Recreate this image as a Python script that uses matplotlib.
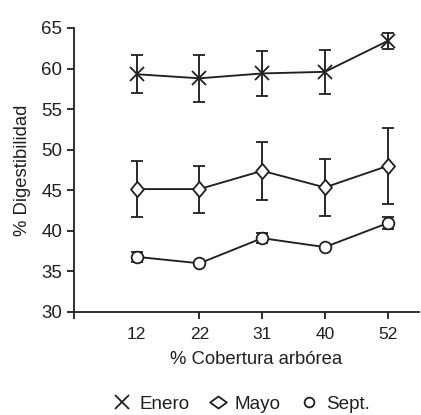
import numpy as np
import matplotlib
matplotlib.use("Agg")
import matplotlib.pyplot as plt
from matplotlib.lines import Line2D
from matplotlib.path import Path

plt.rcParams['font.family'] = ['Liberation Sans', 'DejaVu Sans']

# ---- data ----
cobertura = ['12', '22', '31', '40', '52']
enero = [59.3, 58.8, 59.4, 59.6, 63.4]
enero_err = [2.35, 2.9, 2.8, 2.7, 0.95]
mayo = [45.15, 45.15, 47.4, 45.35, 48.0]
mayo_err = [3.5, 2.9, 3.55, 3.5, 4.65]
sept = [36.8, 36.0, 39.1, 38.0, 40.95]
sept_err = [0.65, np.nan, 0.6, np.nan, 0.75]
series_names = ['Enero', 'Mayo', 'Sept.']

col = '#231f20'
fig = plt.figure(figsize=(4.21, 4.15), dpi=100)
ax = fig.add_axes([74/421, 103/415, 345/421, 284/415])

x = np.arange(1, len(cobertura) + 1)

tall_diamond = Path([(0, 1), (0.85, 0), (0, -1), (-0.85, 0), (0, 1)],
                    [Path.MOVETO, Path.LINETO, Path.LINETO, Path.LINETO, Path.CLOSEPOLY])
wide_diamond = Path([(-1, 0), (0, 0.72), (1, 0), (0, -0.72), (-1, 0)],
                    [Path.MOVETO, Path.LINETO, Path.LINETO, Path.LINETO, Path.CLOSEPOLY])

common = dict(color=col, lw=1.35, elinewidth=1.35, capsize=4.3, capthick=1.35,
              mec=col, mew=1.3)
ax.errorbar(x, enero, yerr=enero_err, marker='x', ms=10.5, mfc='none', **common)
ax.errorbar(x, mayo, yerr=mayo_err, marker=tall_diamond, ms=11, mfc='white', **common)
ax.errorbar(x, sept, yerr=np.array(sept_err), marker='o', ms=8.4, mfc='white', **common)

ax.set_xlim(0, 5.5)
ax.set_ylim(30, 65)
ax.set_yticks(np.arange(30, 66, 5))
ax.set_xticks(x)
ax.set_xticklabels(cobertura)
ax.set_xticks([0], minor=True)
ax.xaxis.get_major_ticks()[0].tick1line.set_visible(False)

for s in ['top', 'right']:
    ax.spines[s].set_visible(False)
for s in ['left', 'bottom']:
    ax.spines[s].set_color(col)
    ax.spines[s].set_linewidth(1.3)

ax.tick_params(axis='y', direction='out', length=5, width=1.3, color=col,
               labelsize=13.5, pad=3.5, labelcolor=col)
ax.tick_params(axis='x', which='both', direction='out', length=4.8, width=1.3, color=col,
               labelsize=12.5, pad=6, labelcolor=col)

ax.set_ylabel('% Digestibilidad', fontsize=13.3, color=col, va='center')
ax.yaxis.set_label_coords(-0.148, 0.5)
ax.set_xlabel('% Cobertura arbórea', fontsize=13.3, color=col, va='center')
ax.xaxis.set_label_coords(0.529, -0.169)

handles = [
    Line2D([], [], ls='none', marker='x', ms=9.5, mec=col, mew=1.3, color=col),
    Line2D([], [], ls='none', marker=wide_diamond, ms=12, mec=col, mfc='white', mew=1.3),
    Line2D([], [], ls='none', marker='o', ms=7, mec=col, mfc='white', mew=1.3),
]
fig.legend(handles, series_names, loc='center', bbox_to_anchor=(242/421, 1 - 404/415),
           ncol=3, frameon=False, fontsize=13.6, handlelength=0.9, handletextpad=0.45,
           columnspacing=1.05, borderpad=0, labelcolor=col)

fig.savefig('out.png', dpi=100)
